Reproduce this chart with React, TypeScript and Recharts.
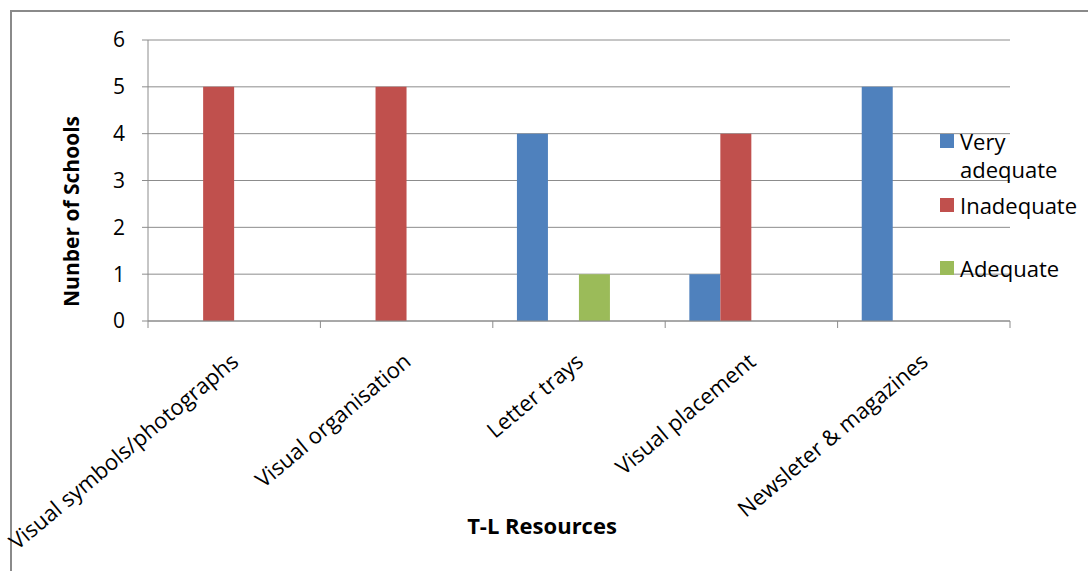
import { BarChart, Bar, XAxis, YAxis, CartesianGrid, Legend } from 'recharts'

const CATEGORIES = [
  'Visual symbols/photographs',
  'Visual organisation',
  'Letter trays',
  'Visual placement',
  'Newsleter & magazines',
]
const VERY_ADEQUATE = [0, 0, 4, 1, 5]
const INADEQUATE = [5, 5, 0, 4, 0]
const ADEQUATE = [0, 0, 1, 0, 0]
// fourth, unnamed series in the source sheet: keeps its slot in each group
const UNNAMED = [0, 0, 0, 0, 0]
const Y_TICKS = [0, 1, 2, 3, 4, 5, 6]

const SERIES = [
  { key: 'veryAdequate', name: 'Very adequate', color: '#4F81BD' },
  { key: 'inadequate', name: 'Inadequate', color: '#C0504D' },
  { key: 'adequate', name: 'Adequate', color: '#9BBB59' },
  { key: 'unnamed', name: '', color: 'transparent' },
]

const data = CATEGORIES.map((name, i) => ({
  name,
  veryAdequate: VERY_ADEQUATE[i],
  inadequate: INADEQUATE[i],
  adequate: ADEQUATE[i],
  unnamed: UNNAMED[i],
}))

const FONT = '"Open Sans", sans-serif'
const GRID = '#8c8c8c'

// category label plus the tick marks on the category boundaries
const CategoryTick = ({ x, y, payload, width, visibleTicksCount, index }: any) => {
  const half = width / visibleTicksCount / 2
  const ly = y + 36
  return (
    <g>
      <line x1={x - half} x2={x - half} y1={y} y2={y + 7} stroke={GRID} />
      {index === visibleTicksCount - 1 && (
        <line x1={x + half} x2={x + half} y1={y} y2={y + 7} stroke={GRID} />
      )}
      <text
        x={x}
        y={ly}
        transform={`rotate(-40, ${x}, ${ly})`}
        textAnchor="end"
        dominantBaseline="central"
        fontFamily={FONT}
        fontSize={22}
        fill="#000"
      >
        {payload.value}
      </text>
    </g>
  )
}

const YTitle = ({ viewBox }: any) => {
  const cx = viewBox.x + 71
  const cy = viewBox.y + viewBox.height / 2 + 31
  return (
    <text
      x={cx}
      y={cy}
      transform={`rotate(-90, ${cx}, ${cy})`}
      textAnchor="middle"
      dominantBaseline="central"
      fontFamily={FONT}
      fontSize={21}
      fontWeight="bold"
      fill="#000"
    >
      Nunber of Schools
    </text>
  )
}

const XTitle = ({ viewBox }: any) => (
  <text
    x={viewBox.x + viewBox.width / 2 - 37}
    y={viewBox.y + 213}
    textAnchor="middle"
    fontFamily={FONT}
    fontSize={22}
    fontWeight="bold"
    fill="#000"
  >
    T-L Resources
  </text>
)

const LegendBox = () => {
  const shown = SERIES.filter(s => s.name)
  const gaps = [0, 8, 35]
  return (
    <div style={{ fontFamily: FONT, fontSize: 22, lineHeight: '28px', color: '#000' }}>
      {shown.map((s, i) => (
        <div key={s.key} style={{ display: 'flex', alignItems: 'flex-start', marginTop: gaps[i] }}>
          <div style={{ width: 14, height: 14, background: s.color, marginTop: 7, marginRight: 6, flexShrink: 0 }} />
          <div style={{ width: 128 }}>{s.name}</div>
        </div>
      ))}
    </div>
  )
}

export default function App() {
  return (
    <div
      style={{
        position: 'absolute',
        left: 0,
        top: 0,
        width: 1088,
        height: 571,
        overflow: 'hidden',
        background: '#fff',
      }}
    >
      <div
        style={{
          position: 'absolute',
          left: 10,
          top: 10,
          width: 1200,
          height: 700,
          borderTop: '2px solid #8a8a8a',
          borderLeft: '2px solid #8a8a8a',
        }}
      />
      <BarChart
        width={1088}
        height={571}
        data={data}
        margin={{ top: 40, right: 78, left: 0, bottom: 0 }}
        barCategoryGap="14%"
        barGap={0}
      >
        <CartesianGrid vertical={false} stroke={GRID} />
        <XAxis
          dataKey="name"
          height={250}
          interval={0}
          tickSize={0}
          tickMargin={0}
          axisLine={{ stroke: GRID }}
          tickLine={false}
          tick={<CategoryTick />}
          label={<XTitle />}
        />
        <YAxis
          width={148}
          domain={[0, 6]}
          ticks={Y_TICKS}
          tickSize={6}
          tickMargin={17}
          axisLine={{ stroke: GRID }}
          tickLine={{ stroke: GRID }}
          tick={{ fill: '#000', fontSize: 21, fontFamily: FONT }}
          label={<YTitle />}
        />
        <Legend
          layout="vertical"
          align="center"
          verticalAlign="middle"
          content={<LegendBox />}
          wrapperStyle={{ left: 940, top: 127, width: 150 }}
        />
        {SERIES.map(s => (
          <Bar key={s.key} dataKey={s.key} name={s.name} fill={s.color} isAnimationActive={false} />
        ))}
      </BarChart>
    </div>
  )
}
